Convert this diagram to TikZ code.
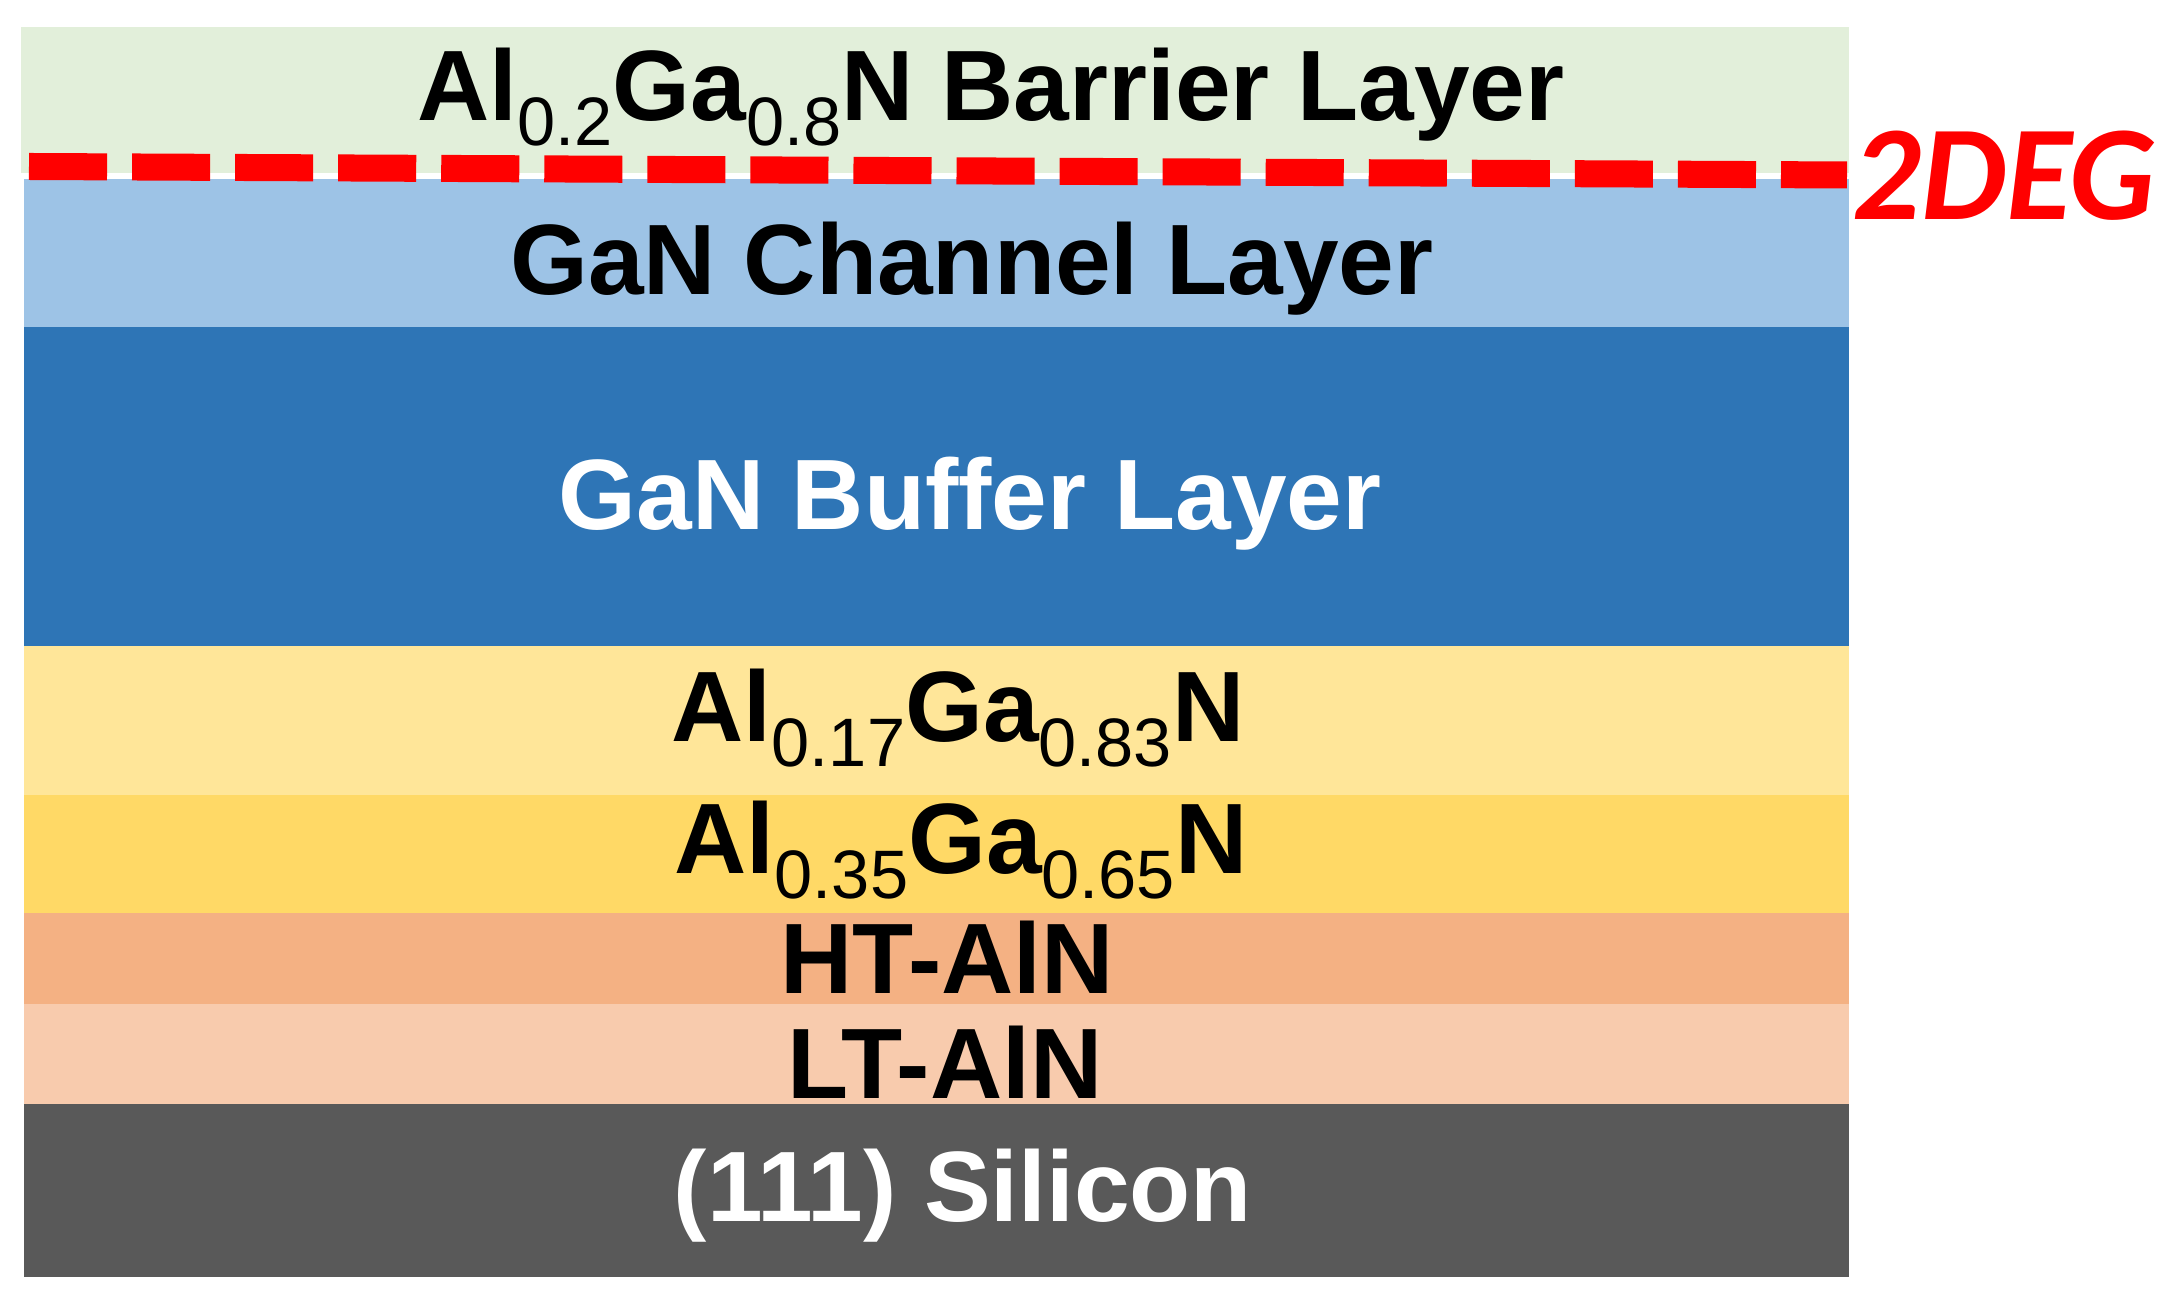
\documentclass[tikz,border=0pt]{standalone}
\usepackage{fontspec}
\setmainfont{Liberation Sans}
\newfontfamily\degfont{Carlito}
\definecolor{barrierc}{HTML}{E2EFDA}
\definecolor{channelc}{HTML}{9DC3E6}
\definecolor{bufferc}{HTML}{2E75B6}
\definecolor{alaa}{HTML}{FFE699}
\definecolor{albb}{HTML}{FFD966}
\definecolor{htc}{HTML}{F4B183}
\definecolor{ltc}{HTML}{F8CBAD}
\definecolor{sic}{HTML}{595959}
\newcommand{\lsub}[1]{\raisebox{-0.24em}{\fontsize{19.5}{20}\selectfont\mdseries #1}}

\begin{document}
\begin{tikzpicture}[x=0.01cm,y=-0.01cm,
  lbl/.style={anchor=base,inner sep=0pt,font=\fontsize{28.45}{34}\selectfont\bfseries},
  deg/.style={draw=red,line width=0.27cm,dash pattern=on 0.78cm off 0.25cm}]
\useasboundingbox (0,0) rectangle (2177,1298);
% layer stack
\fill[barrierc] (21,27) rectangle (1849,173);
\fill[channelc] (24,179) rectangle (1849,327);
\fill[bufferc] (24,327) rectangle (1849,646);
\fill[alaa] (24,646) rectangle (1849,795);
\fill[albb] (24,795) rectangle (1849,913);
\fill[htc] (24,913) rectangle (1849,1004);
\fill[ltc] (24,1004) rectangle (1849,1104);
\fill[sic] (24,1104) rectangle (1849,1277);

\node[lbl] (barrier) at (991,121) {Al\lsub{0.2}Ga\lsub{0.8}N Barrier Layer};
\node[lbl] (channel) at (972,295) {GaN Channel Layer};
\node[lbl,text=white] (buffer) at (970,530) {GaN Buffer Layer};
\node[lbl] (alga1) at (958,742) {Al\lsub{0.17}Ga\lsub{0.83}N};
\node[lbl] (alga2) at (961,874) {Al\lsub{0.35}Ga\lsub{0.65}N};
\node[lbl] (htaln) at (947,994) {HT-AlN};
\node[lbl] (ltaln) at (945,1099) {LT-AlN};
\node[lbl,text=white] (si) at (963,1222) {(111) Silicon};

% 2DEG line
\coordinate (dl) at (29,166.5);
\coordinate (dr) at (1847,175);
\draw[deg] (dl) -- (dr);
\node[anchor=base west,inner sep=0pt,text=red,
  font=\degfont\fontsize{38.4}{44}\selectfont\bfseries\itshape] (twodeg) at (1852,220) {2DEG};
\end{tikzpicture}
\end{document}
